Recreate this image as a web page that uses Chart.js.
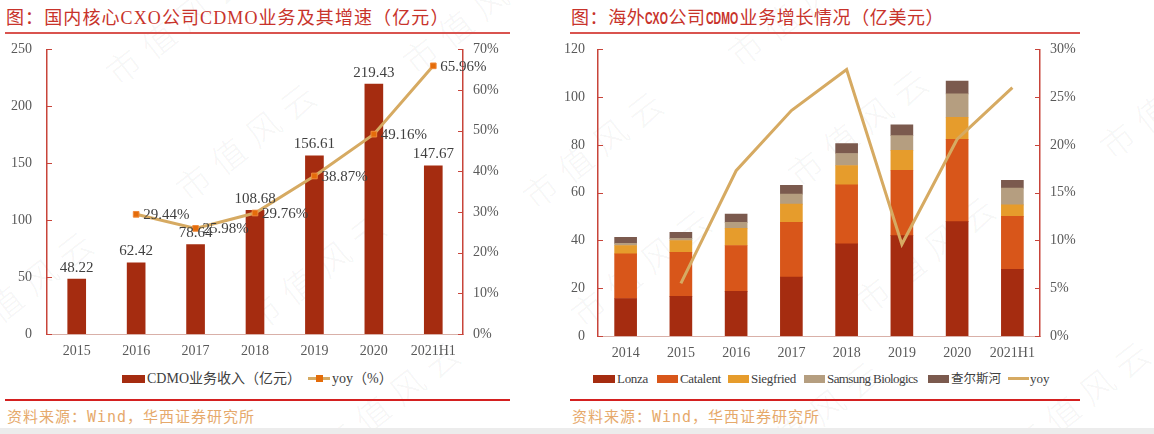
<!DOCTYPE html>
<html>
<head>
<meta charset="utf-8">
<style>
  body { margin: 0; width: 1154px; height: 434px; background: #fff; position: relative; overflow: hidden;
         font-family: "Liberation Serif", "Noto Sans CJK SC", serif; }
  .title { position: absolute; top: 3px; font-size: 18px; color: #C8332B; white-space: nowrap; }
  .nar { display: inline-block; overflow: visible; white-space: nowrap; vertical-align: bottom; }
  .nar span { display: inline-block; transform: scaleX(0.62); transform-origin: left center;
              font-family: "Liberation Sans", sans-serif; font-weight: bold; font-size: 17px; letter-spacing: 0; }
  .rule { position: absolute; height: 2px; background: #D9534F; }
  .rule2 { position: absolute; height: 1.5px; background: #D42020; }
  .src { position: absolute; top: 405px; font-size: 15px; color: #E6A96B; white-space: nowrap;
         font-family: "DejaVu Sans Mono", "Noto Sans CJK SC", monospace; letter-spacing: 1px; }
  canvas { position: absolute; }
  .lg { position: absolute; top: 370px; height: 18px; line-height: 18px; font-size: 14px; color: #404040; white-space: nowrap; }
  .sw { position: absolute; top: 375px; height: 8px; }
  .ln { position: absolute; top: 377px; height: 3px; background: #D6AA62; }
  .mk { position: absolute; top: 375px; width: 7px; height: 7px; background: #E46C0A; }
  .band { position: absolute; left: 0; top: 428px; width: 1154px; height: 6px; background: #ececec; }
  .wm { position: absolute; font-size: 34px; line-height: 40px; letter-spacing: 10px; color: rgba(0,0,0,0.055);
        white-space: nowrap; transform-origin: 17px 20px; transform: rotate(-38deg); font-family: "Noto Sans CJK SC"; font-weight: 300; }
</style>
</head>
<body>
<div class="wm" style="left:106px; top:46px">市值风云</div>
<div class="wm" style="left:176px; top:162px">市值风云</div>
<div class="wm" style="left:246px; top:292px">市值风云</div>
<div class="wm" style="left:-47px; top:310px">市值风云</div>
<div class="wm" style="left:403px; top:35px">市值风云</div>
<div class="wm" style="left:320px; top:420px">市值风云</div>
<div class="wm" style="left:523px; top:170px">市值风云</div>
<div class="wm" style="left:571px; top:288px">市值风云</div>
<div class="wm" style="left:788px; top:148px">市值风云</div>
<div class="wm" style="left:855px; top:275px">市值风云</div>
<div class="wm" style="left:728px; top:28px">市值风云</div>
<div class="wm" style="left:740px; top:440px">市值风云</div>
<div class="wm" style="left:1010px; top:420px">市值风云</div>
<div class="wm" style="left:1100px; top:120px">市值风云</div>

<div class="title" style="left:6px; letter-spacing:1.1px">图：国内核心CXO公司CDMO业务及其增速（亿元）</div>
<div class="rule" style="left:5px; top:32px; width:505px"></div>
<div class="title" style="left:571px; letter-spacing:0.6px">图：海外<span class="nar" style="width:23px"><span>CXO</span></span>公司<span class="nar" style="width:34px"><span>CDMO</span></span>业务增长情况（亿美元）</div>
<div class="rule" style="left:570px; top:32px; width:510px"></div>

<canvas id="left" width="545" height="344" style="left:0; top:26px"></canvas>
<canvas id="right" width="575" height="342" style="left:565px; top:28px"></canvas>

<!-- left legend -->
<div class="sw" style="left:122px; width:23px; background:#A52C10"></div>
<div class="lg" style="left:147px">CDMO业务收入（亿元）</div>
<div class="ln" style="left:308px; width:22px"></div>
<div class="mk" style="left:316px"></div>
<div class="lg" style="left:332px">yoy（%）</div>

<!-- right legend -->
<div class="sw" style="left:593px; width:22px; background:#A52C10"></div>
<div class="lg" style="left:617px; font-size:13px; letter-spacing:-0.3px">Lonza</div>
<div class="sw" style="left:657px; width:21px; background:#D8561A"></div>
<div class="lg" style="left:680px; font-size:13px; letter-spacing:-0.3px">Catalent</div>
<div class="sw" style="left:728px; width:21px; background:#E69C2C"></div>
<div class="lg" style="left:751px; font-size:13px; letter-spacing:-0.3px">Siegfried</div>
<div class="sw" style="left:804px; width:21px; background:#B59E80"></div>
<div class="lg" style="left:827px; font-size:13px; letter-spacing:-0.6px">Samsung Biologics</div>
<div class="sw" style="left:928px; width:21px; background:#7B5A4E"></div>
<div class="lg" style="left:951px; font-size:12.5px">查尔斯河</div>
<div class="ln" style="left:1008px; width:21px"></div>
<div class="lg" style="left:1030px; font-size:13px">yoy</div>

<div class="rule2" style="left:5px; top:399px; width:505px"></div>
<div class="rule2" style="left:570px; top:399px; width:510px"></div>
<div class="src" style="left:7px">资料来源：Wind，华西证券研究所</div>
<div class="src" style="left:572px">资料来源：Wind，华西证券研究所</div>
<div class="band"></div>

<script src="https://cdn.jsdelivr.net/npm/chart.js@4.4.0/dist/chart.umd.min.js"></script>
<script>
  // left chart data
  const cnYears = ["2015", "2016", "2017", "2018", "2019", "2020", "2021H1"]
  const cnRevenue = [48.22, 62.42, 78.64, 108.68, 156.61, 219.43, 147.67]
  const cnYoy = [null, 29.44, 25.98, 29.76, 38.87, 49.16, 65.96]

  // right chart data
  const osYears = ["2014", "2015", "2016", "2017", "2018", "2019", "2020", "2021H1"]
  const lonza = [15.7, 16.6, 18.7, 24.7, 38.6, 42.0, 47.9, 27.9]
  const catalent = [18.7, 18.4, 19.2, 22.9, 24.7, 27.4, 34.4, 22.2]
  const siegfried = [3.5, 5.0, 7.2, 7.6, 8.1, 8.3, 9.3, 4.8]
  const samsung = [0.9, 0.9, 2.5, 4.2, 5.0, 6.2, 9.8, 7.0]
  const charlesRiver = [2.5, 2.5, 3.5, 3.7, 4.2, 4.5, 5.3, 3.3]
  const osYoy = [null, 5.5, 17.3, 23.6, 27.9, 9.6, 20.6, 26.0]

  const axisRed = '#C8443A'
  const tickFont = { family: '"Liberation Serif", serif', size: 14 }
  const tickColor = '#595959'

  // small inward tick marks on the value axes
  const innerTicks = {
    id: 'innerTicks',
    afterDraw(chart) {
      const ctx = chart.ctx
      ctx.save()
      ctx.strokeStyle = axisRed
      ctx.lineWidth = 1
      for (const id of ['y', 'y1']) {
        const s = chart.scales[id]
        if (!s) continue
        const x = id === 'y' ? s.right : s.left
        const dir = id === 'y' ? 1 : -1
        s.ticks.forEach(t => {
          const py = Math.round(s.getPixelForValue(t.value)) + 0.5
          ctx.beginPath()
          ctx.moveTo(x, py)
          ctx.lineTo(x + dir * 5, py)
          ctx.stroke()
        })
      }
      ctx.restore()
    }
  }

  // value labels for left chart
  const valueLabels = {
    id: 'valueLabels',
    afterDatasetsDraw(chart) {
      const ctx = chart.ctx
      ctx.save()
      ctx.font = '15px "Liberation Serif", serif'
      ctx.fillStyle = '#404040'
      const bars = chart.getDatasetMeta(0).data
      ctx.textAlign = 'center'
      ctx.textBaseline = 'bottom'
      bars.forEach((b, i) => ctx.fillText(cnRevenue[i].toFixed(2), b.x, b.y - 4))
      const pts = chart.getDatasetMeta(1).data
      ctx.textAlign = 'left'
      ctx.textBaseline = 'middle'
      pts.forEach((p, i) => {
        if (cnYoy[i] == null) return
        ctx.fillText(cnYoy[i].toFixed(2) + '%', p.x + 7, p.y + 1)
      })
      ctx.restore()
    }
  }

  function yAxis(max, step, width, isPct, position) {
    return {
      position: position,
      min: 0, max: max,
      border: { color: axisRed, width: 1.5 },
      grid: { display: false, drawTicks: false },
      ticks: {
        stepSize: step,
        font: tickFont,
        color: tickColor,
        padding: position === 'left' ? 15 : 10,
        callback: v => isPct ? v + '%' : v
      },
      afterFit: s => { s.width = width }
    }
  }

  function xAxis(height) {
    return {
      border: { color: '#D9B0A8', width: 1 },
      grid: { display: false, drawTicks: false },
      ticks: { font: tickFont, color: tickColor, padding: 9, maxRotation: 0 },
      afterFit: s => { s.height = height }
    }
  }

  new Chart(document.getElementById('left'), {
    type: 'bar',
    data: {
      labels: cnYears,
      datasets: [
        {
          label: 'CDMO业务收入（亿元）',
          data: cnRevenue,
          backgroundColor: '#A52C10',
          barThickness: 18,
          yAxisID: 'y',
          order: 2
        },
        {
          type: 'line',
          label: 'yoy（%）',
          data: cnYoy,
          borderColor: '#D6AA62',
          borderWidth: 3,
          pointStyle: 'rect',
          pointRadius: 4,
          pointBackgroundColor: '#E46C0A',
          pointBorderColor: '#F08A3A',
          pointBorderWidth: 1,
          tension: 0,
          yAxisID: 'y1',
          order: 1
        }
      ]
    },
    options: {
      responsive: false,
      animation: false,
      layout: { padding: { top: 8, left: 0, right: 0, bottom: 0 } },
      plugins: { legend: { display: false }, tooltip: { enabled: false } },
      scales: {
        x: xAxis(36),
        y: yAxis(250, 50, 47, false, 'left'),
        y1: yAxis(70, 10, 82, true, 'right')
      }
    },
    plugins: [innerTicks, valueLabels]
  })

  const stackColors = ['#A52C10', '#D8561A', '#E69C2C', '#B59E80', '#7B5A4E']
  const stackNames = ['Lonza', 'Catalent', 'Siegfried', 'Samsung Biologics', '查尔斯河']
  const stackData = [lonza, catalent, siegfried, samsung, charlesRiver]

  const osSets = stackData.map((d, i) => ({
    label: stackNames[i],
    data: d,
    backgroundColor: stackColors[i],
    barThickness: 22,
    stack: 's',
    yAxisID: 'y',
    order: 2
  }))
  osSets.push({
    type: 'line',
    label: 'yoy',
    data: osYoy,
    borderColor: '#D6AA62',
    borderWidth: 3,
    pointRadius: 0,
    tension: 0,
    yAxisID: 'y1',
    order: 1
  })

  const rx = xAxis(34)
  rx.stacked = true
  const ry = yAxis(120, 20, 33, false, 'left')
  ry.stacked = true
  ry.ticks.padding = 13

  new Chart(document.getElementById('right'), {
    type: 'bar',
    data: { labels: osYears, datasets: osSets },
    options: {
      responsive: false,
      animation: false,
      layout: { padding: { top: 8, left: 0, right: 0, bottom: 0 } },
      plugins: { legend: { display: false }, tooltip: { enabled: false } },
      scales: {
        x: rx,
        y: ry,
        y1: yAxis(30, 5, 100, true, 'right')
      }
    },
    plugins: [innerTicks]
  })
</script>
</body>
</html>
